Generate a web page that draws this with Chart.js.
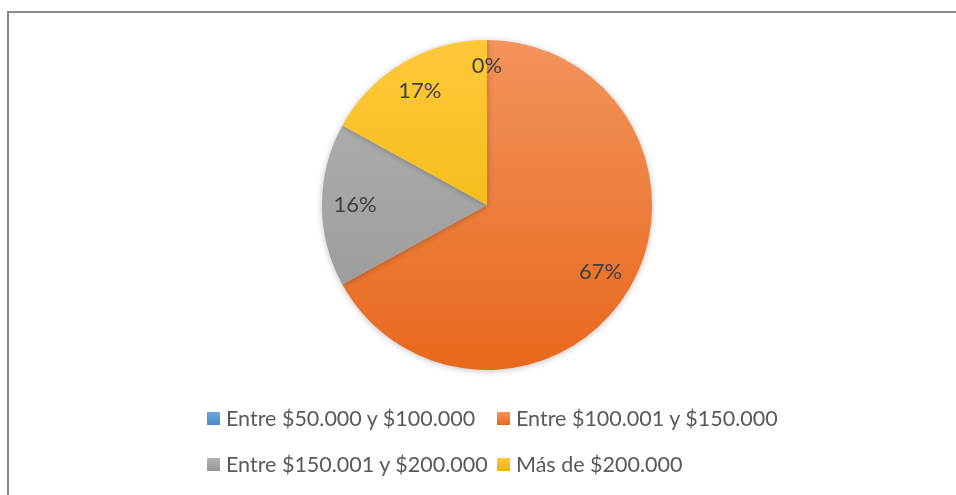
<!DOCTYPE html>
<html>
<head>
<meta charset="utf-8">
<script src="https://cdn.jsdelivr.net/npm/chart.js@4.4.0/dist/chart.umd.min.js"></script>
<style>
  body { margin:0; background:#fff; width:956px; height:495px; overflow:hidden; position:relative; font-family:Lato, "Open Sans", sans-serif; }
  #frame { position:absolute; left:7px; top:11px; width:1000px; height:600px; border-left:2px solid #8a8a8a; border-top:2px solid #8a8a8a; }
  #myChart { position:absolute; left:0; top:0; }
  #legend { position:absolute; left:207px; top:405px; display:grid; grid-template-columns:290px 290px; row-gap:20px; }
  .item { display:flex; align-items:center; height:26px; color:#595959; font-size:21.5px; white-space:nowrap; }
  .box { width:13px; height:13px; margin-right:6px; }
</style>
</head>
<body>
<div id="frame"></div>
<canvas id="myChart" width="956" height="495"></canvas>
<div id="legend"></div>
<script>
// data
var labels = ["Entre $50.000 y $100.000", "Entre $100.001 y $150.000", "Entre $150.001 y $200.000", "Más de $200.000"]
var values = [0, 67, 16, 17]
var topColors = ["#6aa6dc", "#f3935c", "#b4b4b4", "#ffc83a"]
var bottomColors = ["#4a8cc8", "#e8681c", "#959595", "#ebb400"]

// gradient fill like the original
function fill(ctx){
    var chart = ctx.chart
    var area = chart.chartArea
    if(!area) return topColors[ctx.dataIndex]
    var g = chart.ctx.createLinearGradient(0, area.top, 0, area.bottom)
    g.addColorStop(0, topColors[ctx.dataIndex])
    g.addColorStop(1, bottomColors[ctx.dataIndex])
    return g
}

// percent labels on slices
var pctLabels = {
    id:'pctLabels',
    afterDatasetsDraw(chart){
        var c = chart.ctx
        var arcs = chart.getDatasetMeta(0).data
        c.save()
        c.font = "22px Lato, 'Open Sans', sans-serif"
        c.fillStyle = "#404040"
        c.textAlign = "center"
        c.textBaseline = "middle"
        arcs.forEach(function(a, i){
            var p = a.getProps(['x','y','startAngle','endAngle','outerRadius'])
            var mid = (p.startAngle + p.endAngle) / 2
            var f = values[i] === 0 ? 0.84 : 0.8
            var x = p.x + Math.cos(mid) * p.outerRadius * f
            var y = p.y + Math.sin(mid) * p.outerRadius * f
            c.fillText(values[i] + "%", x, y)
        })
        c.restore()
    }
}

// soft shadow behind the pie
var shadow = {
    id:'shadow',
    beforeDatasetsDraw(chart){
        chart.ctx.save()
        chart.ctx.shadowColor = "rgba(0,0,0,0.25)"
        chart.ctx.shadowBlur = 6
        chart.ctx.shadowOffsetY = 1
    },
    afterDatasetsDraw(chart){
        chart.ctx.restore()
    }
}

var ctx = document.getElementById('myChart').getContext("2d")
var pie = new Chart(ctx, {
    type:'pie',
    plugins:[shadow, pctLabels],
    data:{
        labels: labels,
        datasets:[{
            data: values,
            backgroundColor: fill,
            borderWidth: 0
        }]
    },
    options:{
        responsive:false,
        animation:false,
        layout:{ padding:{ left:322, right:304, top:40, bottom:125 } },
        plugins:{
            legend:{ display:false },
            tooltip:{ enabled:false }
        }
    }
})

// legend
var legend = document.getElementById('legend')
labels.forEach(function(l, i){
    var item = document.createElement('div')
    item.className = 'item'
    var box = document.createElement('span')
    box.className = 'box'
    box.style.background = "linear-gradient(" + topColors[i] + "," + bottomColors[i] + ")"
    var txt = document.createElement('span')
    txt.textContent = l
    item.appendChild(box)
    item.appendChild(txt)
    legend.appendChild(item)
})
</script>
</body>
</html>
